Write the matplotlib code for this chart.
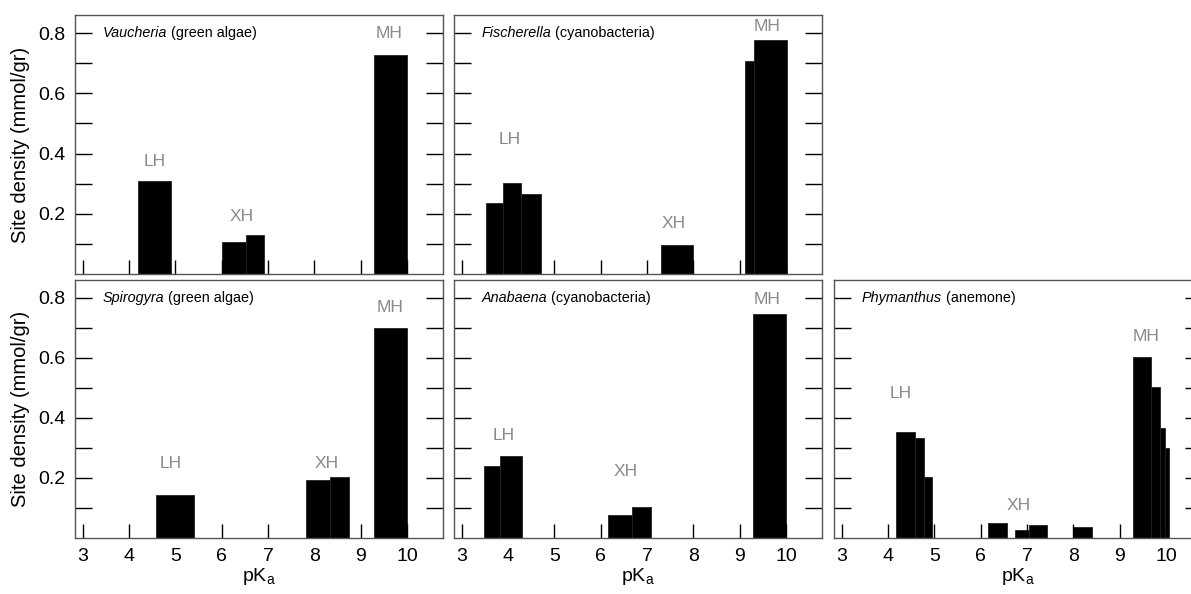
import numpy as np
import matplotlib
matplotlib.use("Agg")
from matplotlib import pyplot as plt

plt.rcParams['font.family'] = ['Liberation Sans', 'DejaVu Sans']

# bar edges (pKa) and site densities (mmol/gr) for each organism
vau_left = [4.20, 6.00, 6.52, 9.28]
vau_right = [4.90, 6.52, 6.92, 10.00]
vau_h = [0.31, 0.106, 0.129, 0.726]

fis_left = [3.52, 3.88, 4.27, 7.30, 9.11, 9.31]
fis_right = [3.88, 4.27, 4.71, 8.00, 9.31, 10.02]
fis_h = [0.235, 0.302, 0.264, 0.096, 0.707, 0.778]

spi_left = [4.58, 7.83, 8.34, 9.28]
spi_right = [5.40, 8.34, 8.75, 10.00]
spi_h = [0.142, 0.192, 0.202, 0.701]

ana_left = [3.47, 3.83, 6.15, 6.67, 9.28]
ana_right = [3.83, 4.30, 6.67, 7.08, 10.00]
ana_h = [0.239, 0.272, 0.078, 0.102, 0.747]

phy_left = [4.16, 4.57, 4.78, 6.16, 6.74, 7.04, 8.00, 9.29, 9.68, 9.88, 9.98]
phy_right = [4.57, 4.78, 4.94, 6.56, 7.04, 7.43, 8.40, 9.68, 9.88, 9.98, 10.06]
phy_h = [0.352, 0.332, 0.202, 0.049, 0.027, 0.045, 0.038, 0.604, 0.503, 0.366, 0.30]

# site group labels: (text, pKa, density)
vau_lab = [('LH', 4.56, 0.373), ('XH', 6.43, 0.19), ('MH', 9.62, 0.80)]
fis_lab = [('LH', 4.04, 0.446), ('XH', 7.57, 0.167), ('MH', 9.59, 0.822)]
spi_lab = [('LH', 4.89, 0.25), ('XH', 8.26, 0.25), ('MH', 9.64, 0.77)]
ana_lab = [('LH', 3.91, 0.343), ('XH', 6.53, 0.22), ('MH', 9.59, 0.795)]
phy_lab = [('LH', 4.28, 0.483), ('XH', 6.83, 0.107), ('MH', 9.57, 0.671)]

x_ticks = [3, 4, 5, 6, 7, 8, 9, 10]
y_ticks = [0.1, 0.2, 0.3, 0.4, 0.5, 0.6, 0.7, 0.8]
y_ticklabels = ['', '0.2', '', '0.4', '', '0.6', '', '0.8']

W, H = 1191, 594
fig = plt.figure(figsize=(W / 100, H / 100), dpi=100)


def panel(px_left, px_top, px_bottom, left, right, h, labels, genus, kind,
          ylab=False, xlab=False):
    ax = fig.add_axes([px_left / W, 1 - px_bottom / H, 368 / W,
                       (px_bottom - px_top) / H])
    left = np.array(left)
    right = np.array(right)
    ax.bar(left, h, width=right - left, align='edge', color='black',
           edgecolor='#222222', linewidth=0.6)
    for t, x, y in labels:
        ax.text(x, y, t, ha='center', va='center', color='#8a8a8a',
                fontsize=12.5)
    g = ax.text(0.075, 0.93, genus, style='italic', fontsize=10.4,
                transform=ax.transAxes, va='center')
    ax.annotate(' (' + kind + ')', xy=(1, 0.5), xycoords=g,
                va='center', ha='left', fontsize=10.4)
    ax.set_xlim(2.83, 10.78)
    ax.set_ylim(0, 0.86)
    ax.set_xticks(x_ticks)
    ax.set_yticks(y_ticks)
    ax.tick_params(axis='x', direction='in', length=10, width=1,
                   labelsize=14, labelbottom=xlab, pad=7)
    ax.tick_params(axis='y', direction='in', length=12, width=1,
                   labelsize=14, left=True, right=True,
                   labelleft=ylab, pad=7)
    if ylab:
        ax.set_yticklabels(y_ticklabels)
        ax.set_ylabel('Site density (mmol/gr)', fontsize=14.5, labelpad=6)
    if xlab:
        ax.set_xlabel(r'pK$_\mathregular{a}$', fontsize=14, labelpad=1)
    for s in ax.spines.values():
        s.set_color('#555555')
        s.set_linewidth(1.0)
    return ax


panel(75, 15, 274, vau_left, vau_right, vau_h, vau_lab,
      'Vaucheria', 'green algae', ylab=True)
panel(454, 15, 274, fis_left, fis_right, fis_h, fis_lab,
      'Fischerella', 'cyanobacteria')
panel(75, 280, 538, spi_left, spi_right, spi_h, spi_lab,
      'Spirogyra', 'green algae', ylab=True, xlab=True)
panel(454, 280, 538, ana_left, ana_right, ana_h, ana_lab,
      'Anabaena', 'cyanobacteria', xlab=True)
panel(834, 280, 538, phy_left, phy_right, phy_h, phy_lab,
      'Phymanthus', 'anemone', xlab=True)

fig.savefig('out.png', dpi=100)
